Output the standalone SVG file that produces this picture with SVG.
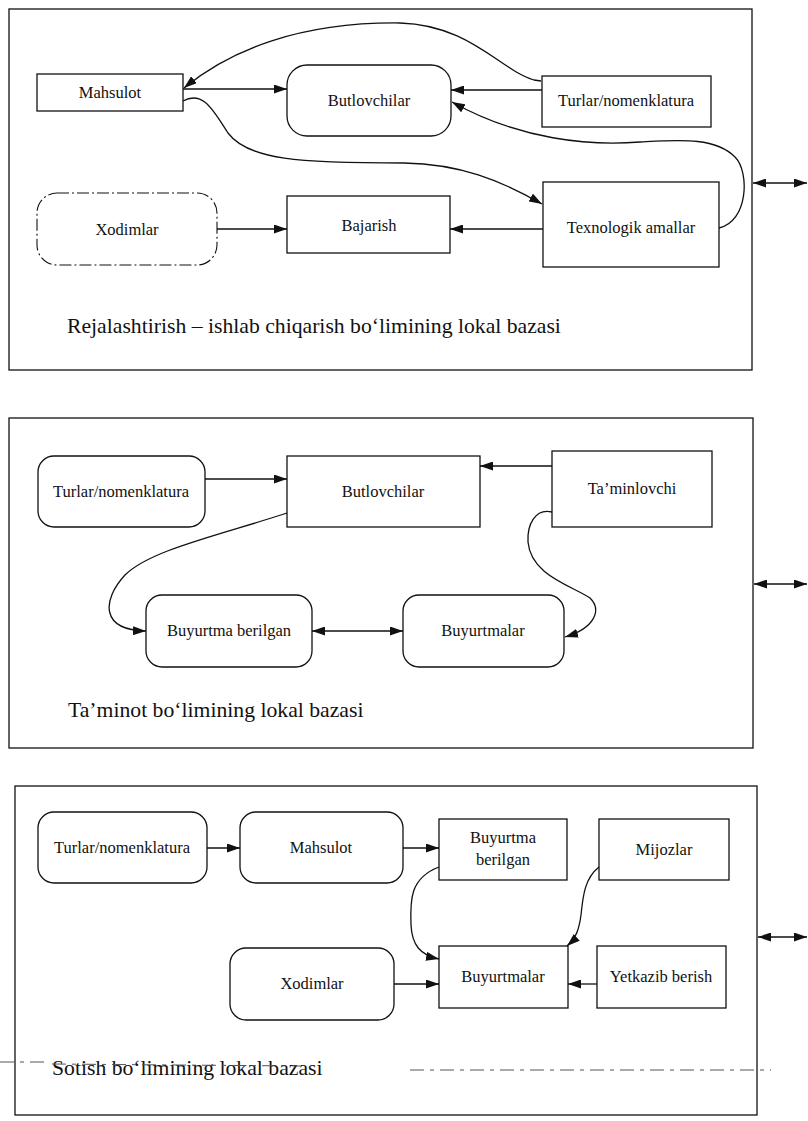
<svg xmlns="http://www.w3.org/2000/svg" width="808" height="1121" viewBox="0 0 808 1121">
<style>
.panel{fill:none;stroke:#111;stroke-width:1.3}
.box{fill:#fff;stroke:#111;stroke-width:1.3}
.dash{fill:#fff;stroke:#111;stroke-width:1.1;stroke-dasharray:12 3 2 3}
.t{font-family:"Liberation Serif","Times New Roman",serif;font-size:16.5px;fill:#111;text-anchor:middle}
.lbl{font-family:"Liberation Serif","Times New Roman",serif;font-size:21.7px;fill:#111}
.c{fill:none;stroke:#111;stroke-width:1.3}
.a{marker-end:url(#ah)}
.b{marker-start:url(#ah);marker-end:url(#ah)}
</style>
<defs>
<marker id="ah" viewBox="0 0 13 9" refX="13" refY="4.5" markerWidth="13" markerHeight="9" markerUnits="userSpaceOnUse" orient="auto-start-reverse">
<path d="M0,0 L13,4.5 L0,9 z" fill="#111"/>
</marker>
</defs>
<rect width="808" height="1121" fill="#fff"/>

<!-- Panels -->
<g id="panel1"><rect class="panel" x="9" y="9" width="743" height="361"/>
<text class="lbl" x="67" y="333">Rejalashtirish – ishlab chiqarish bo‘limining lokal bazasi</text></g>
<g id="panel2"><rect class="panel" x="9" y="418" width="744" height="330"/>
<text class="lbl" x="68" y="717">Ta’minot bo‘limining lokal bazasi</text></g>
<g id="panel3"><rect class="panel" x="15" y="786" width="742" height="329"/>
<text class="lbl" x="52" y="1075">Sotish bo‘limining lokal bazasi</text>
<path d="M0,1062 L45,1062 M52,1064 L300,1066 M410,1070 L771,1070" fill="none" stroke="#555" stroke-width="1" stroke-dasharray="14 6 4 6"/></g>

<!-- Panel 1 nodes -->
<g id="p1-mahsulot"><rect class="box" x="37" y="74" width="146" height="37"/><text class="t" x="110" y="98">Mahsulot</text></g>
<g id="p1-butlovchilar"><rect class="box" x="287" y="65" width="164" height="71" rx="20"/><text class="t" x="369" y="106">Butlovchilar</text></g>
<g id="p1-turlar"><rect class="box" x="542" y="76" width="169" height="51"/><text class="t" x="626" y="106">Turlar/nomenklatura</text></g>
<g id="p1-xodimlar"><rect class="dash" x="37" y="193" width="180" height="72" rx="20"/><text class="t" x="127" y="235">Xodimlar</text></g>
<g id="p1-bajarish"><rect class="box" x="287" y="196" width="163" height="57"/><text class="t" x="369" y="231">Bajarish</text></g>
<g id="p1-texnologik"><rect class="box" x="543" y="182" width="176" height="85"/><text class="t" x="631" y="233">Texnologik amallar</text></g>

<!-- Panel 2 nodes -->
<g id="p2-turlar"><rect class="box" x="38" y="456" width="167" height="71" rx="16"/><text class="t" x="121" y="497">Turlar/nomenklatura</text></g>
<g id="p2-butlovchilar"><rect class="box" x="287" y="456" width="193" height="71"/><text class="t" x="383" y="497">Butlovchilar</text></g>
<g id="p2-taminlovchi"><rect class="box" x="552" y="451" width="160" height="76"/><text class="t" x="632" y="494">Ta’minlovchi</text></g>
<g id="p2-buyurtmaberilgan"><rect class="box" x="146" y="595" width="166" height="72" rx="16"/><text class="t" x="229" y="636">Buyurtma berilgan</text></g>
<g id="p2-buyurtmalar"><rect class="box" x="403" y="595" width="161" height="72" rx="16"/><text class="t" x="483" y="636">Buyurtmalar</text></g>

<!-- Panel 3 nodes -->
<g id="p3-turlar"><rect class="box" x="38" y="812" width="169" height="71" rx="16"/><text class="t" x="122" y="853">Turlar/nomenklatura</text></g>
<g id="p3-mahsulot"><rect class="box" x="240" y="812" width="163" height="71" rx="16"/><text class="t" x="321" y="853">Mahsulot</text></g>
<g id="p3-buyurtmaberilgan"><rect class="box" x="439" y="819" width="128" height="61"/><text class="t" x="503" y="843">Buyurtma</text><text class="t" x="503" y="865">berilgan</text></g>
<g id="p3-mijozlar"><rect class="box" x="599" y="819" width="130" height="61"/><text class="t" x="664" y="855">Mijozlar</text></g>
<g id="p3-xodimlar"><rect class="box" x="230" y="948" width="164" height="72" rx="16"/><text class="t" x="312" y="989">Xodimlar</text></g>
<g id="p3-buyurtmalar"><rect class="box" x="439" y="946" width="129" height="62"/><text class="t" x="503" y="982">Buyurtmalar</text></g>
<g id="p3-yetkazib"><rect class="box" x="597" y="946" width="129" height="62"/><text class="t" x="661" y="982">Yetkazib berish</text></g>

<!-- Connectors -->
<g id="connectors">
<path class="c a" d="M183,89 L287,89"/>
<path class="c a" d="M542,90 L451,90"/>
<path class="c a" d="M541,81 L534,80 C500,70 470,25 400,23 C300,22 230,50 184,88"/>
<path class="c a" d="M183,101 C203,90 213,110 228,133 C248,160 300,163 404,163 C460,164 500,180 542,204"/>
<path class="c a" d="M719,228 C748,222 750,172 735,157 C715,137 680,140 640,142 C590,146 520,140 452,102"/>
<path class="c a" d="M543,229 L450,229"/>
<path class="c a" d="M217,229 L287,229"/>
<path class="c b" d="M753,183 L807,183"/>

<path class="c a" d="M205,479 L287,479"/>
<path class="c a" d="M552,466 L480,466"/>
<path class="c a" d="M287,513 C220,535 150,550 125,575 C102,600 100,630 146,631"/>
<path class="c b" d="M312,631 L403,631"/>
<path class="c a" d="M552,512 C535,508 527,525 528,542 C531,575 570,585 590,598 C602,610 595,628 565,637"/>
<path class="c b" d="M754,584 L807,584"/>

<path class="c a" d="M207,848 L240,848"/>
<path class="c a" d="M403,848 L439,848"/>
<path class="c a" d="M439,867 C410,878 410,900 411,925 C412,945 420,955 439,959"/>
<path class="c a" d="M599,867 C585,878 583,895 581,915 C579,930 576,938 567,946"/>
<path class="c a" d="M394,984 L439,984"/>
<path class="c a" d="M597,984 L568,984"/>
<path class="c b" d="M758,937 L807,937"/>
</g>
</svg>
